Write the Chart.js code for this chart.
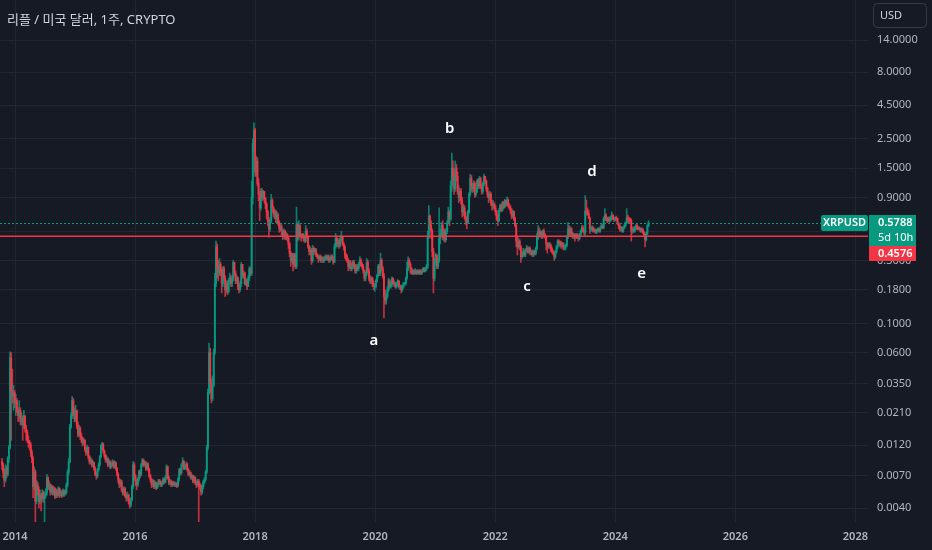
<!DOCTYPE html>
<html><head><meta charset="utf-8">
<script src="https://cdn.jsdelivr.net/npm/chart.js@4.4.1/dist/chart.umd.min.js"></script>
<style>
html,body{margin:0;padding:0;background:#161a25;overflow:hidden}
#wrap{position:relative;width:932px;height:550px}
canvas{display:block}
</style></head><body>
<div id="wrap"><canvas id="c" width="932" height="550"></canvas></div>
<script>
// ---- data (weekly XRP/USD candles) ----
const titleText = '리플 / 미국 달러, 1주, CRYPTO';
const firstWeek = 2013.7834;   // year fraction of the first weekly candle
const firstOpen = 0.0090;
const closes = [
0.0085,0.0075,0.0065,0.0080,0.0072,0.0095,0.0115,0.055,0.031,0.028,
0.030,0.025,0.026,0.022,0.020,0.022,0.018,0.019,0.017,0.020,
0.016,0.015,0.013,0.0125,0.012,0.0105,0.0095,0.0058,0.0075,0.0045,
0.0060,0.0055,0.0045,0.0050,0.0047,0.0052,0.0047,0.0050,0.0052,0.0068,
0.0058,0.0060,0.0053,0.0058,0.0052,0.0056,0.0049,0.0054,0.0050,0.0056,
0.0050,0.0053,0.0050,0.0054,0.0051,0.0053,0.0060,0.0075,0.0090,0.0165,
0.020,0.026,0.021,0.019,0.022,0.017,0.0145,0.016,0.0140,0.0135,
0.0125,0.0130,0.0112,0.0105,0.0115,0.0098,0.0090,0.0092,0.0085,0.0088,
0.0080,0.0072,0.0070,0.0078,0.0085,0.0098,0.0118,0.0122,0.0108,0.0100,
0.0093,0.0095,0.0085,0.0090,0.0082,0.0085,0.0090,0.0082,0.0088,0.0080,
0.0072,0.0065,0.0060,0.0063,0.0055,0.0052,0.0056,0.0050,0.0048,0.0050,
0.0045,0.0042,0.0046,0.0058,0.0085,0.0070,0.0064,0.0060,0.0066,0.0075,
0.0072,0.0085,0.0092,0.0085,0.0088,0.0080,0.0086,0.0078,0.0070,0.0066,
0.0060,0.0064,0.0058,0.0062,0.0057,0.0060,0.0064,0.0063,0.0060,0.0062,
0.0066,0.0063,0.0068,0.0082,0.0068,0.0062,0.0063,0.0060,0.0062,0.0061,
0.0060,0.0061,0.0059,0.0066,0.0078,0.0074,0.0085,0.0090,0.0080,0.0082,
0.0086,0.0078,0.0072,0.0074,0.0068,0.0070,0.0064,0.0068,0.0062,0.0060,
0.0064,0.0060,0.0058,0.0053,0.0058,0.0063,0.0066,0.0075,0.0115,0.030,
0.060,0.035,0.027,0.034,0.060,0.20,0.38,0.27,0.24,0.28,
0.25,0.20,0.26,0.22,0.18,0.20,0.175,0.21,0.22,0.20,
0.22,0.29,0.24,0.21,0.22,0.19,0.18,0.20,0.28,0.23,
0.24,0.20,0.21,0.19,0.22,0.26,0.24,0.90,2.3,2.9,
1.4,1.7,1.15,0.95,0.75,1.0,0.90,1.0,0.88,0.80,
0.70,0.60,0.52,0.60,0.85,0.75,0.68,0.70,0.62,0.66,
0.58,0.52,0.54,0.50,0.46,0.50,0.45,0.47,0.44,0.40,
0.34,0.30,0.33,0.28,0.33,0.27,0.56,0.45,0.55,0.47,
0.45,0.47,0.45,0.42,0.50,0.45,0.38,0.35,0.36,0.30,
0.37,0.35,0.36,0.33,0.32,0.31,0.32,0.30,0.31,0.30,
0.31,0.32,0.31,0.32,0.30,0.31,0.32,0.31,0.29,0.38,
0.44,0.40,0.42,0.39,0.44,0.45,0.40,0.38,0.33,0.32,
0.30,0.27,0.29,0.26,0.27,0.29,0.27,0.25,0.27,0.26,
0.28,0.30,0.28,0.27,0.25,0.22,0.24,0.29,0.25,0.22,
0.21,0.22,0.20,0.19,0.19,0.21,0.23,0.27,0.24,0.30,
0.26,0.23,0.16,0.15,0.16,0.18,0.21,0.19,0.20,0.22,
0.20,0.20,0.19,0.20,0.21,0.19,0.19,0.18,0.19,0.20,
0.20,0.22,0.26,0.30,0.28,0.26,0.24,0.25,0.24,0.25,
0.24,0.25,0.24,0.25,0.24,0.25,0.26,0.25,0.26,0.27,
0.45,0.65,0.55,0.50,0.35,0.22,0.30,0.33,0.27,0.30,
0.44,0.48,0.55,0.45,0.50,0.43,0.50,0.58,0.70,0.62,
1.1,1.5,1.3,1.05,1.5,1.3,1.0,0.90,1.0,0.85,
0.70,0.75,0.65,0.60,0.58,0.70,0.95,1.25,1.1,1.05,
1.15,0.95,1.0,1.2,1.1,1.25,1.1,1.0,1.15,1.3,
1.2,1.05,0.95,0.90,0.95,0.82,0.78,0.80,0.75,0.70,
0.62,0.60,0.72,0.78,0.72,0.82,0.76,0.85,0.80,0.86,
0.78,0.75,0.72,0.65,0.70,0.62,0.55,0.42,0.38,0.42,
0.38,0.32,0.33,0.35,0.33,0.36,0.37,0.35,0.37,0.34,
0.35,0.33,0.35,0.34,0.37,0.45,0.50,0.47,0.49,0.46,
0.50,0.47,0.45,0.40,0.38,0.40,0.39,0.37,0.35,0.34,
0.32,0.35,0.38,0.42,0.40,0.41,0.39,0.40,0.37,0.38,
0.39,0.45,0.52,0.48,0.52,0.47,0.45,0.47,0.45,0.47,
0.46,0.44,0.47,0.50,0.53,0.50,0.49,0.71,0.70,0.68,
0.63,0.52,0.52,0.53,0.50,0.51,0.49,0.51,0.52,0.50,
0.53,0.55,0.53,0.62,0.66,0.62,0.60,0.62,0.60,0.63,
0.66,0.62,0.61,0.63,0.62,0.57,0.55,0.52,0.53,0.50,
0.53,0.55,0.58,0.63,0.62,0.61,0.60,0.50,0.52,0.50,
0.53,0.55,0.52,0.53,0.52,0.50,0.52,0.49,0.47,0.43,
0.48,0.55,0.5788];
const highs = [
0.0095,0.0088,0.0078,0.0085,0.0083,0.0098,0.012,0.061,0.060,0.045,
0.034,0.031,0.029,0.027,0.023,0.026,0.023,0.021,0.020,0.022,
0.020,0.017,0.0155,0.014,0.013,0.0125,0.011,0.0098,0.0082,0.0078,
0.0065,0.0063,0.0058,0.0055,0.0052,0.0055,0.0054,0.0053,0.0056,0.0072,
0.0069,0.0064,0.0061,0.0060,0.0059,0.0058,0.0057,0.0056,0.0055,0.0058,
0.0057,0.0055,0.0054,0.0056,0.0055,0.0055,0.0062,0.0078,0.0095,0.0172,
0.021,0.028,0.027,0.023,0.024,0.022,0.018,0.017,0.0165,0.0148,
0.0138,0.0135,0.0132,0.0115,0.0120,0.0116,0.0100,0.0097,0.0094,0.0091,
0.0089,0.0082,0.0075,0.0080,0.0088,0.0100,0.0121,0.0126,0.0124,0.0110,
0.0102,0.0099,0.0096,0.0093,0.0091,0.0088,0.0093,0.0091,0.0091,0.0089,
0.0081,0.0074,0.0067,0.0066,0.0065,0.0057,0.0058,0.0057,0.0052,0.0053,
0.0051,0.0047,0.0048,0.0060,0.0090,0.0088,0.0072,0.0066,0.0068,0.0077,
0.0078,0.0087,0.0095,0.0094,0.0091,0.0090,0.0088,0.0088,0.0080,0.0072,
0.0067,0.0066,0.0065,0.0064,0.0063,0.0062,0.0066,0.0066,0.0064,0.0064,
0.0068,0.0067,0.0070,0.0085,0.0083,0.0070,0.0066,0.0065,0.0064,0.0064,
0.0063,0.0063,0.0062,0.0068,0.0080,0.0080,0.0087,0.0096,0.0092,0.0085,
0.0089,0.0088,0.0080,0.0077,0.0075,0.0072,0.0071,0.0070,0.0069,0.0064,
0.0066,0.0066,0.0062,0.0060,0.0060,0.0065,0.0068,0.0077,0.0120,0.032,
0.071,0.065,0.038,0.040,0.064,0.24,0.42,0.40,0.30,0.31,
0.29,0.26,0.27,0.27,0.23,0.21,0.21,0.22,0.24,0.23,
0.23,0.30,0.29,0.25,0.23,0.225,0.20,0.21,0.29,0.28,
0.25,0.245,0.22,0.215,0.23,0.27,0.265,1.2,2.5,3.3,
3.0,1.85,1.8,1.25,1.0,1.05,1.05,1.02,1.0,0.90,
0.82,0.72,0.62,0.64,0.95,0.88,0.77,0.73,0.72,0.70,
0.68,0.60,0.57,0.56,0.51,0.52,0.51,0.49,0.48,0.45,
0.41,0.35,0.34,0.34,0.34,0.34,0.76,0.58,0.60,0.56,
0.48,0.48,0.48,0.46,0.55,0.52,0.46,0.39,0.38,0.37,
0.39,0.38,0.37,0.37,0.34,0.33,0.33,0.33,0.32,0.32,
0.32,0.33,0.33,0.33,0.33,0.32,0.33,0.33,0.32,0.40,
0.48,0.46,0.44,0.43,0.46,0.50,0.46,0.41,0.39,0.34,
0.33,0.31,0.30,0.30,0.28,0.30,0.30,0.28,0.28,0.28,
0.29,0.32,0.31,0.29,0.28,0.255,0.245,0.31,0.30,0.26,
0.23,0.225,0.225,0.21,0.20,0.215,0.235,0.28,0.28,0.34,
0.31,0.27,0.24,0.18,0.17,0.19,0.22,0.215,0.205,0.225,
0.22,0.21,0.205,0.205,0.215,0.21,0.195,0.195,0.195,0.205,
0.205,0.225,0.29,0.32,0.31,0.29,0.265,0.255,0.255,0.26,
0.255,0.255,0.255,0.255,0.255,0.255,0.265,0.265,0.265,0.28,
0.50,0.78,0.66,0.60,0.52,0.37,0.31,0.34,0.33,0.31,
0.75,0.52,0.58,0.60,0.52,0.52,0.52,0.60,0.76,0.72,
1.2,1.95,1.7,1.4,1.7,1.6,1.4,1.1,1.05,1.05,
0.90,0.80,0.78,0.70,0.64,0.72,0.98,1.35,1.32,1.15,
1.2,1.18,1.05,1.23,1.25,1.3,1.28,1.12,1.18,1.35,
1.3,1.22,1.08,0.99,1.0,0.98,0.86,0.85,0.82,0.78,
0.72,0.66,0.74,0.80,0.80,0.84,0.84,0.87,0.86,0.91,
0.88,0.81,0.78,0.74,0.72,0.71,0.64,0.57,0.45,0.44,
0.43,0.39,0.345,0.37,0.36,0.37,0.39,0.38,0.38,0.38,
0.36,0.36,0.36,0.36,0.38,0.48,0.55,0.53,0.51,0.50,
0.51,0.52,0.48,0.46,0.41,0.41,0.41,0.40,0.38,0.36,
0.35,0.36,0.39,0.43,0.43,0.42,0.42,0.41,0.41,0.39,
0.40,0.46,0.58,0.55,0.54,0.53,0.49,0.48,0.48,0.48,
0.48,0.47,0.48,0.51,0.55,0.55,0.51,0.93,0.86,0.75,
0.72,0.64,0.54,0.55,0.54,0.52,0.52,0.52,0.53,0.53,
0.54,0.57,0.56,0.64,0.74,0.68,0.64,0.64,0.64,0.65,
0.70,0.67,0.64,0.64,0.65,0.63,0.58,0.56,0.545,0.54,
0.54,0.56,0.59,0.74,0.66,0.64,0.63,0.62,0.53,0.54,
0.54,0.56,0.56,0.54,0.54,0.53,0.53,0.52,0.50,0.48,
0.49,0.56,0.60];
const lows = [
0.0078,0.0068,0.0058,0.0063,0.0068,0.0070,0.0088,0.0112,0.013,0.025,
0.022,0.023,0.020,0.021,0.018,0.019,0.017,0.017,0.013,0.016,
0.015,0.013,0.0125,0.0115,0.011,0.0098,0.0088,0.0048,0.0055,0.0030,
0.0043,0.0050,0.0040,0.0043,0.0038,0.0045,0.0044,0.0031,0.0048,0.0050,
0.0055,0.0055,0.0050,0.0051,0.0050,0.0050,0.0047,0.0048,0.0048,0.0049,
0.0048,0.0049,0.0048,0.0049,0.0049,0.0050,0.0051,0.0058,0.0072,0.0088,
0.016,0.019,0.020,0.018,0.018,0.016,0.0138,0.014,0.0132,0.0125,
0.0118,0.0120,0.0108,0.0100,0.0102,0.0094,0.0086,0.0087,0.0082,0.0082,
0.0077,0.0070,0.0066,0.0068,0.0076,0.0083,0.0096,0.0112,0.0104,0.0096,
0.0089,0.0088,0.0082,0.0083,0.0079,0.0080,0.0083,0.0080,0.0080,0.0077,
0.0070,0.0062,0.0057,0.0058,0.0053,0.0050,0.0050,0.0048,0.0045,0.0046,
0.0043,0.0040,0.0041,0.0045,0.0056,0.0066,0.0059,0.0055,0.0058,0.0064,
0.0068,0.0070,0.0083,0.0082,0.0083,0.0077,0.0078,0.0076,0.0068,0.0063,
0.0057,0.0058,0.0056,0.0056,0.0055,0.0056,0.0058,0.0060,0.0058,0.0058,
0.0060,0.0061,0.0062,0.0066,0.0066,0.0060,0.0060,0.0058,0.0058,0.0059,
0.0058,0.0058,0.0057,0.0058,0.0064,0.0071,0.0072,0.0082,0.0078,0.0078,
0.0079,0.0076,0.0070,0.0070,0.0066,0.0066,0.0062,0.0062,0.0060,0.0057,
0.0058,0.0030,0.0055,0.0050,0.0051,0.0056,0.0061,0.0064,0.0073,0.0110,
0.029,0.030,0.025,0.026,0.033,0.058,0.19,0.22,0.21,0.23,
0.23,0.17,0.19,0.21,0.16,0.17,0.165,0.17,0.20,0.19,
0.19,0.21,0.23,0.20,0.20,0.18,0.17,0.175,0.19,0.22,
0.22,0.195,0.195,0.18,0.19,0.21,0.23,0.23,0.80,2.0,
1.3,1.3,1.1,0.85,0.60,0.72,0.85,0.86,0.82,0.74,
0.62,0.55,0.45,0.50,0.58,0.70,0.64,0.62,0.58,0.58,
0.55,0.49,0.50,0.46,0.43,0.44,0.43,0.43,0.42,0.37,
0.32,0.27,0.29,0.25,0.27,0.26,0.26,0.42,0.43,0.45,
0.42,0.44,0.42,0.41,0.41,0.44,0.37,0.33,0.33,0.28,
0.29,0.33,0.34,0.32,0.31,0.29,0.30,0.29,0.29,0.29,
0.29,0.30,0.30,0.30,0.29,0.29,0.30,0.30,0.28,0.29,
0.37,0.38,0.38,0.37,0.38,0.42,0.39,0.36,0.31,0.30,
0.29,0.25,0.26,0.25,0.25,0.26,0.26,0.24,0.24,0.25,
0.25,0.27,0.27,0.26,0.24,0.21,0.21,0.23,0.24,0.21,
0.20,0.20,0.19,0.18,0.175,0.185,0.205,0.225,0.23,0.23,
0.25,0.22,0.11,0.14,0.14,0.155,0.175,0.185,0.185,0.19,
0.195,0.19,0.185,0.185,0.195,0.185,0.18,0.17,0.175,0.185,
0.195,0.195,0.215,0.25,0.27,0.24,0.235,0.235,0.235,0.235,
0.235,0.235,0.235,0.235,0.235,0.235,0.245,0.245,0.245,0.25,
0.26,0.44,0.50,0.44,0.32,0.17,0.21,0.28,0.26,0.26,
0.29,0.40,0.46,0.43,0.42,0.41,0.42,0.48,0.57,0.55,
0.60,1.0,1.2,0.95,1.0,1.2,0.95,0.82,0.85,0.80,
0.64,0.66,0.62,0.56,0.52,0.57,0.68,0.92,1.0,0.98,
1.0,0.90,0.92,0.98,1.05,1.05,1.05,0.95,0.97,1.1,
1.15,1.0,0.90,0.82,0.85,0.78,0.72,0.74,0.72,0.66,
0.60,0.55,0.59,0.70,0.70,0.71,0.74,0.75,0.77,0.78,
0.76,0.73,0.68,0.62,0.63,0.60,0.54,0.38,0.33,0.37,
0.36,0.29,0.31,0.32,0.32,0.32,0.35,0.34,0.34,0.33,
0.33,0.32,0.32,0.33,0.33,0.36,0.43,0.45,0.45,0.44,
0.44,0.45,0.44,0.36,0.34,0.37,0.37,0.35,0.34,0.33,
0.30,0.31,0.34,0.37,0.39,0.38,0.37,0.38,0.36,0.36,
0.36,0.38,0.44,0.46,0.46,0.46,0.44,0.44,0.42,0.44,
0.44,0.42,0.43,0.46,0.49,0.49,0.47,0.46,0.66,0.66,
0.62,0.48,0.50,0.50,0.49,0.49,0.48,0.48,0.50,0.49,
0.49,0.52,0.52,0.52,0.60,0.60,0.58,0.59,0.58,0.59,
0.61,0.61,0.59,0.60,0.60,0.56,0.52,0.50,0.50,0.49,
0.49,0.52,0.54,0.57,0.58,0.58,0.58,0.42,0.48,0.49,
0.49,0.52,0.51,0.51,0.51,0.49,0.49,0.48,0.46,0.38,
0.42,0.47,0.54];
const yTicks = [14, 8, 4.5, 2.5, 1.5, 0.9, 0.5, 0.3, 0.18, 0.1, 0.06, 0.035, 0.021, 0.012, 0.007, 0.004];
const xTicks = [2014, 2016, 2018, 2020, 2022, 2024, 2026, 2028];
const lastPrice = 0.5788;
const countdown = '5d 10h';
const symbol = 'XRPUSD';
const levelPrice = 0.4576;
const waveLabels = ['a', 'b', 'c', 'd', 'e'];
const waveYears  = [2019.98, 2021.24, 2022.53, 2023.61, 2024.44];
const wavePrices = [0.0745, 2.96, 0.188, 1.40, 0.236];

// ---- styling ----
const BG = '#161a25', GRID = '#222631', UP = '#089981', DOWN = '#f23645', TXT = '#b2b5be';
const UPW = 'rgba(8,153,129,0.8)', DOWNW = 'rgba(242,54,69,0.8)';

const weeks = closes.map((_, i) => firstWeek + i * 7 / 365.25);
const opens = closes.map((c, i) => i === 0 ? firstOpen : closes[i - 1]);
const isUp = closes.map((c, i) => c >= opens[i]);

const wickData = weeks.map((x, i) => ({x, y: [lows[i], highs[i]]}));
const bodyData = weeks.map((x, i) => ({x, y: [opens[i], closes[i]]}));

function rrect(ctx, x, y, w, h, r) {
  ctx.beginPath();
  ctx.moveTo(x + r, y); ctx.lineTo(x + w - r, y); ctx.quadraticCurveTo(x + w, y, x + w, y + r);
  ctx.lineTo(x + w, y + h - r); ctx.quadraticCurveTo(x + w, y + h, x + w - r, y + h);
  ctx.lineTo(x + r, y + h); ctx.quadraticCurveTo(x, y + h, x, y + h - r);
  ctx.lineTo(x, y + r); ctx.quadraticCurveTo(x, y, x + r, y); ctx.closePath();
}

const overlay = {
  id: 'overlay',
  beforeDraw(chart) {
    const c = chart.ctx; c.save(); c.fillStyle = BG; c.fillRect(0, 0, chart.width, chart.height); c.restore();
  },
  afterDatasetsDraw(chart) {
    const {ctx, chartArea: a, scales: {x, y}} = chart;
    ctx.save();
    // dotted last-price line
    const yp = Math.round(y.getPixelForValue(lastPrice)) + 0.5;
    ctx.strokeStyle = UP; ctx.lineWidth = 1; ctx.setLineDash([2, 2]);
    ctx.beginPath(); ctx.moveTo(Math.round(a.left), yp); ctx.lineTo(Math.round(a.right), yp); ctx.stroke();
    ctx.setLineDash([]);
    // red horizontal level
    const yl = y.getPixelForValue(levelPrice);
    ctx.strokeStyle = DOWN; ctx.lineWidth = 1.5;
    ctx.beginPath(); ctx.moveTo(a.left, yl); ctx.lineTo(a.right, yl); ctx.stroke();
    // wave letters
    ctx.fillStyle = '#ffffff'; ctx.font = '600 15px "Noto Sans"';
    ctx.textAlign = 'center'; ctx.textBaseline = 'middle';
    waveLabels.forEach((t, i) => ctx.fillText(t, x.getPixelForValue(waveYears[i]), y.getPixelForValue(wavePrices[i])));
    ctx.restore();
  },
  afterDraw(chart) {
    const {ctx, chartArea: a, scales: {y}} = chart;
    ctx.save();
    const yp = y.getPixelForValue(lastPrice);
    const top = Math.round(yp - 7.5);
    // symbol tag
    ctx.fillStyle = UP; rrect(ctx, a.right - 47, top, 47, 16, 2); ctx.fill();
    ctx.fillStyle = '#ffffff'; ctx.font = '600 11px "Noto Sans"'; ctx.textAlign = 'center'; ctx.textBaseline = 'middle';
    ctx.fillText(symbol, a.right - 23.5, top + 8);
    // price box
    ctx.fillStyle = UP; ctx.fillRect(a.right + 1, top, 47, 31);
    ctx.fillStyle = '#ffffff'; ctx.textAlign = 'left';
    ctx.font = '600 11px "Noto Sans"'; ctx.fillText(lastPrice.toFixed(4), a.right + 10, top + 8);
    ctx.font = '11px "Noto Sans"'; ctx.fillText(countdown, a.right + 10, top + 23);
    // level box
    ctx.fillStyle = DOWN; ctx.fillRect(a.right + 1, top + 31, 47, 15);
    ctx.fillStyle = '#ffffff'; ctx.font = '600 11px "Noto Sans"'; ctx.fillText(levelPrice.toFixed(4), a.right + 10, top + 38.5);
    // USD box
    ctx.strokeStyle = '#363a45'; ctx.lineWidth = 1; rrect(ctx, 873.5, 3.5, 53, 24, 4); ctx.stroke();
    ctx.fillStyle = '#d1d4dc'; ctx.font = '11px "Noto Sans"'; ctx.fillText('USD', 880, 16);
    // title
    ctx.fillStyle = '#d1d4dc'; ctx.font = '13px "Noto Sans", "Noto Sans CJK KR"';
    ctx.fillText(titleText, 7, 20);
    ctx.restore();
  }
};

function noPad(s) { s.paddingTop = 0; s.paddingBottom = 0; s.paddingLeft = 0; s.paddingRight = 0; }

new Chart(document.getElementById('c'), {
  type: 'bar',
  data: {
    datasets: [
      {data: wickData, backgroundColor: isUp.map(u => u ? UPW : DOWNW), barThickness: 1, grouped: false, order: 2, borderWidth: 0},
      {data: bodyData, backgroundColor: isUp.map(u => u ? UP : DOWN), barThickness: 1.2, minBarLength: 1, grouped: false, order: 1, borderWidth: 0}
    ]
  },
  options: {
    responsive: false, animation: false,
    layout: {padding: 0},
    plugins: {legend: {display: false}, tooltip: {enabled: false}},
    scales: {
      x: {
        type: 'linear', min: 2013.750, max: 2028.21, offset: false,
        grid: {color: GRID, drawTicks: false, offset: false}, border: {display: false},
        ticks: {color: TXT, font: {family: 'Noto Sans', size: 11, weight: '600'}, padding: 8, maxRotation: 0, autoSkip: false, callback: v => String(v)},
        afterBuildTicks: s => { s.ticks = xTicks.map(v => ({value: v})); },
        afterFit: s => { s.height = 28; noPad(s); }
      },
      y: {
        type: 'logarithmic', position: 'right', min: 0.003134, max: 28.14,
        grid: {color: GRID, drawTicks: false}, border: {display: false},
        ticks: {color: TXT, font: {family: 'Noto Sans', size: 11}, padding: 9, autoSkip: false, callback: v => Number(v).toFixed(4)},
        afterBuildTicks: s => { s.ticks = yTicks.map(v => ({value: v})); },
        afterFit: s => { s.width = 64; noPad(s); }
      }
    }
  },
  plugins: [overlay]
});
</script>
</body></html>
